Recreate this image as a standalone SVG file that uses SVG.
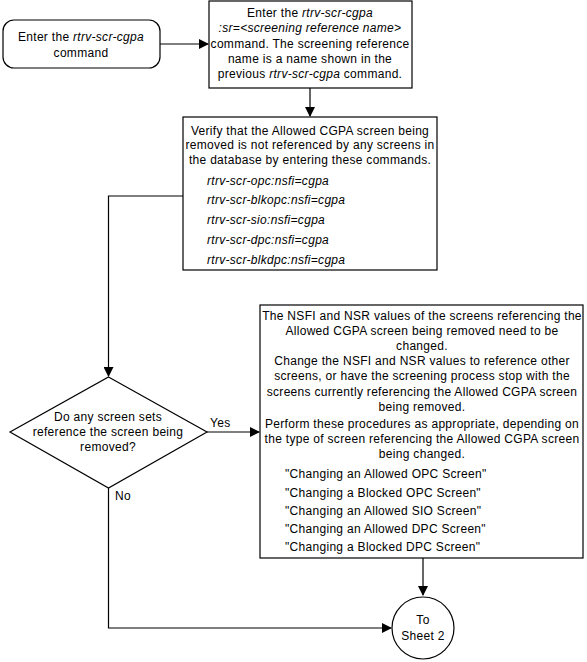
<svg xmlns="http://www.w3.org/2000/svg" width="587" height="662" viewBox="0 0 587 662">
<defs>
<style>
text{font-family:"Liberation Sans",Arial,sans-serif;font-size:12px;fill:#000;letter-spacing:0.3px}
.c{text-anchor:middle}
.i{font-style:italic}
.s{fill:#fff;stroke:#000;stroke-width:1.2}
.l{fill:none;stroke:#000;stroke-width:1.2}
</style>
<marker id="ah" markerWidth="10" markerHeight="10" refX="9" refY="5" orient="auto" markerUnits="userSpaceOnUse">
<path d="M0,0 L10,5 L0,10 Z" fill="#000"/>
</marker>
</defs>
<g id="connectors">
<path class="l" d="M160,44 H208" marker-end="url(#ah)"/>
<path class="l" d="M310,88 V116" marker-end="url(#ah)"/>
<path class="l" d="M183,196 H108.5 V376" marker-end="url(#ah)"/>
<path class="l" d="M207,432 H259" marker-end="url(#ah)"/>
<path class="l" d="M108.5,488 V628 H391" marker-end="url(#ah)"/>
<path class="l" d="M423,558 V595" marker-end="url(#ah)"/>
<text x="210" y="427">Yes</text>
<text x="115" y="500">No</text>
</g>
<g id="n1">
<rect class="s" x="3" y="20" width="157" height="48" rx="11"/>
<text class="c" x="81" y="41">Enter the <tspan class="i">rtrv-scr-cgpa</tspan></text>
<text class="c" x="81" y="57">command</text>
</g>
<g id="n2">
<rect class="s" x="209" y="1" width="203" height="87"/>
<text class="c" x="310" y="17">Enter the <tspan class="i">rtrv-scr-cgpa</tspan></text>
<text class="c i" x="310" y="32">:sr=&lt;screening reference name&gt;</text>
<text class="c" x="310" y="48">command. The screening reference</text>
<text class="c" x="310" y="63">name is a name shown in the</text>
<text class="c" x="310" y="78">previous <tspan class="i">rtrv-scr-cgpa</tspan> command.</text>
</g>
<g id="n3">
<rect class="s" x="183" y="117" width="254" height="153"/>
<text class="c" x="310" y="135">Verify that the Allowed CGPA screen being</text>
<text class="c" x="310" y="149">removed is not referenced by any screens in</text>
<text class="c" x="310" y="164">the database by entering these commands.</text>
<text class="i" x="207" y="185">rtrv-scr-opc:nsfi=cgpa</text>
<text class="i" x="207" y="204">rtrv-scr-blkopc:nsfi=cgpa</text>
<text class="i" x="207" y="224">rtrv-scr-sio:nsfi=cgpa</text>
<text class="i" x="207" y="244">rtrv-scr-dpc:nsfi=cgpa</text>
<text class="i" x="207" y="264">rtrv-scr-blkdpc:nsfi=cgpa</text>
</g>
<g id="n4">
<path class="s" d="M108.5,377 L207,432 L108.5,488 L10,432 Z"/>
<text class="c" x="108" y="421">Do any screen sets</text>
<text class="c" x="108" y="436">reference the screen being</text>
<text class="c" x="108" y="451">removed?</text>
</g>
<g id="n5">
<rect class="s" x="260" y="305" width="323" height="253"/>
<text class="c" x="422" y="320">The NSFI and NSR values of the screens referencing the</text>
<text class="c" x="422" y="335">Allowed CGPA screen being removed need to be</text>
<text class="c" x="422" y="350">changed.</text>
<text class="c" x="422" y="365">Change the NSFI and NSR values to reference other</text>
<text class="c" x="422" y="380">screens, or have the screening process stop with the</text>
<text class="c" x="422" y="396">screens currently referencing the Allowed CGPA screen</text>
<text class="c" x="422" y="411">being removed.</text>
<text class="c" x="422" y="428">Perform these procedures as appropriate, depending on</text>
<text class="c" x="422" y="443">the type of screen referencing the Allowed CGPA screen</text>
<text class="c" x="422" y="458">being changed.</text>
<text x="285" y="478">"Changing an Allowed OPC Screen"</text>
<text x="285" y="497">"Changing a Blocked OPC Screen"</text>
<text x="285" y="515">"Changing an Allowed SIO Screen"</text>
<text x="285" y="533">"Changing an Allowed DPC Screen"</text>
<text x="285" y="551">"Changing a Blocked DPC Screen"</text>
</g>
<g id="n6">
<circle class="s" cx="423" cy="628" r="31"/>
<text class="c" x="423" y="624">To</text>
<text class="c" x="423" y="640">Sheet 2</text>
</g>
</svg>
